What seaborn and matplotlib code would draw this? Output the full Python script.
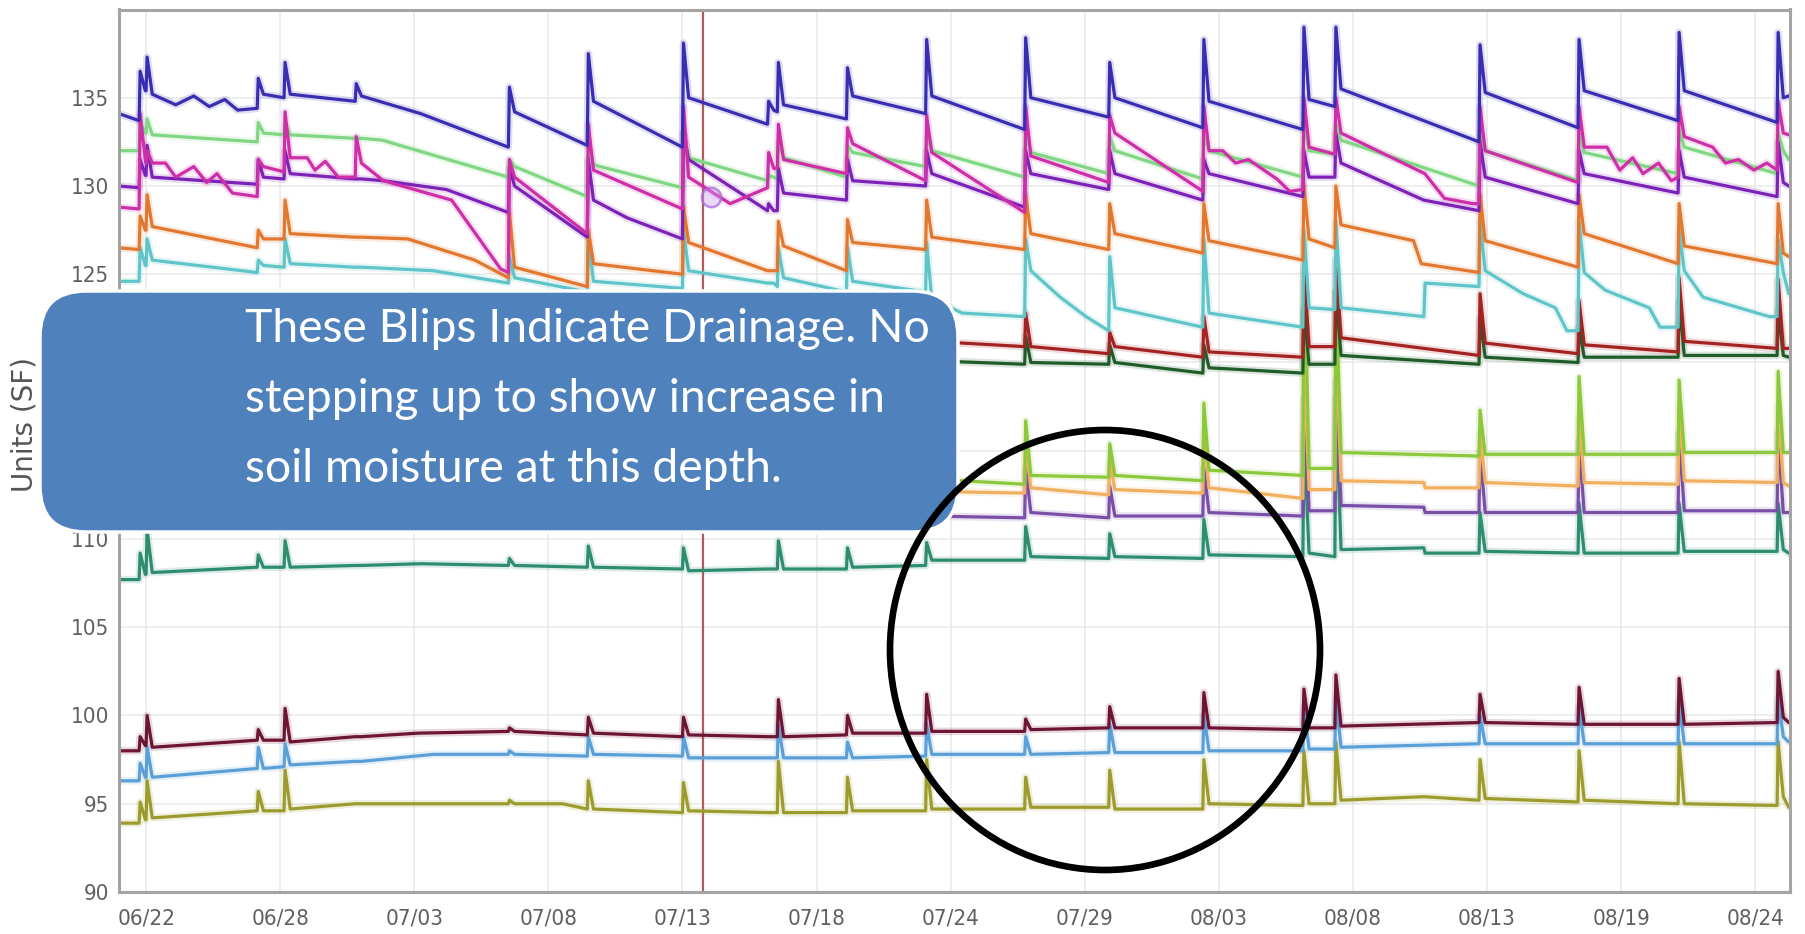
import pandas as pd
import matplotlib
matplotlib.use("Agg")
import matplotlib.pyplot as plt
import matplotlib.dates as mdates
from matplotlib import font_manager as fm
from matplotlib.patches import FancyBboxPatch, Ellipse
from matplotlib.transforms import IdentityTransform
import seaborn as sns

# ---------------------------------------------------------------- data
BASE_DATE = "2013-06-22"
# irrigation / rain events (days after BASE_DATE) read from the spikes
EVENT_DAYS = [0.62, 0.89, 5.20, 6.24, 9.00, 14.94, 18.00, 21.69, 24.99, 25.37, 28.05,
              31.12, 34.96, 38.22, 41.87, 45.75, 46.99, 52.58, 56.42, 60.30, 64.14]
START_DAY, END_DAY = -0.2, 64.55

TICK_START_DAY = 0.85
TICK_STEP_DAYS = 5.2
TICK_LABELS = ["06/22", "06/28", "07/03", "07/08", "07/13", "07/18", "07/24",
               "07/29", "08/03", "08/08", "08/13", "08/19", "08/24"]
Y_TICKS = [90, 95, 100, 105, 110, 115, 120, 125, 130, 135]
Y_LIMITS = [90, 140]
X_LIMITS = [-0.2, 64.6]
Y_LABEL = "Units (SF)"
CURSOR_DAY = 22.46
MARKER_DAY, MARKER_VALUE = 22.74, 129.4
ANNOTATION_LINES = ["These Blips Indicate Drainage. No",
                    "stepping up to show increase in",
                    "soil moisture at this depth."]

# each series: value just before each event, at its peak, shortly after
navy_pre = [133.7, 135.4, 134.4, 135.0, 134.8, 132.2, 132.3, 132.2, 133.5, 134.2, 133.8, 134.1, 133.2, 133.9, 133.3, 133.2, 134.5, 132.5, 133.3, 133.7, 133.6]
navy_peak = [136.5, 137.3, 136.1, 137.0, 135.8, 135.6, 137.5, 138.1, 134.8, 137.0, 136.7, 138.3, 138.4, 137.0, 138.3, 139.0, 139.0, 138.0, 138.3, 138.7, 138.7]
navy_post = [135.4, 135.2, 135.2, 135.2, 135.1, 134.2, 134.8, 135.0, 134.3, 134.6, 135.1, 135.1, 135.0, 135.0, 134.8, 134.9, 135.5, 135.3, 135.4, 135.4, 135.0]
navy_ends = [134.1, 135.1]
navy_extra = [(2.0, 134.6), (2.7, 135.1), (3.3, 134.5), (3.9, 134.9), (4.4, 134.3), (11.5, 134.1)]

lightgreen_pre = [132.0, 133.0, 132.5, 132.9, 132.7, 130.5, 129.4, 129.9, 130.3, 130.4, 130.5, 131.1, 130.5, 130.7, 130.4, 130.5, 131.8, 130.0, 130.3, 130.7, 130.7]
lightgreen_peak = [133.6, 133.8, 133.6, 133.5, 132.7, 131.5, 132.5, 133.0, 130.6, 132.5, 132.3, 132.8, 133.0, 132.8, 132.8, 133.5, 133.5, 132.8, 133.0, 133.2, 133.0]
lightgreen_post = [133.0, 132.9, 133.0, 132.9, 132.7, 131.1, 131.2, 131.6, 130.5, 131.6, 131.9, 132.0, 131.9, 132.0, 132.0, 132.0, 132.6, 132.0, 131.9, 132.2, 132.0]
lightgreen_ends = [132.0, 131.5]
lightgreen_extra = [(10.0, 132.6)]

magenta_pre = [128.7, 131.3, 129.4, 130.8, 130.5, 125.1, 127.3, 128.7, 129.9, 131.0, 130.7, 130.3, 128.5, 130.2, 129.7, 129.8, 131.8, 129.0, 130.2, 130.5, 130.9]
magenta_peak = [134.1, 132.0, 131.5, 134.2, 132.8, 131.5, 133.5, 134.5, 131.9, 133.5, 133.3, 134.0, 134.5, 134.0, 134.5, 135.0, 135.0, 134.5, 134.5, 134.5, 134.8]
magenta_post = [131.5, 131.3, 131.1, 131.6, 131.3, 130.5, 130.9, 130.5, 131.0, 131.5, 132.4, 131.9, 131.7, 133.0, 132.0, 132.2, 133.0, 132.0, 132.2, 132.8, 133.0]
magenta_ends = [128.8, 132.9]
magenta_extra = [(1.6, 131.3), (2.0, 130.5), (2.7, 131.1), (3.2, 130.2), (3.6, 130.7), (4.2, 129.6),
                 (7.1, 131.6), (7.4, 130.9), (7.8, 131.4), (8.3, 130.5), (10.05, 130.3), (12.7, 129.2),
                 (14.6, 125.3), (23.5, 129.0), (42.6, 132.0), (43.1, 131.3), (43.6, 131.5), (44.2, 130.9),
                 (44.7, 130.4), (45.2, 129.7), (50.44, 130.7), (51.2, 129.3), (52.3, 129.0), (57.5, 132.2),
                 (58.0, 130.9), (58.5, 131.6), (58.9, 130.7), (59.5, 131.3), (60.0, 130.3), (61.6, 132.2),
                 (62.1, 131.3), (62.6, 131.5), (63.2, 130.9), (63.7, 131.3)]

purple_pre = [129.9, 130.6, 130.1, 130.4, 130.4, 128.5, 127.1, 127.0, 128.6, 128.6, 129.2, 130.0, 128.8, 129.8, 129.2, 129.4, 130.5, 128.6, 129.0, 129.6, 129.4]
purple_peak = [131.5, 132.3, 131.5, 132.0, 130.4, 131.0, 131.5, 133.0, 129.0, 131.0, 131.5, 132.0, 132.0, 132.0, 131.5, 132.0, 133.0, 132.5, 132.0, 132.0, 132.5]
purple_post = [130.6, 130.5, 130.5, 130.7, 130.4, 130.0, 129.2, 131.5, 128.6, 129.6, 130.3, 130.7, 130.7, 130.7, 130.7, 130.5, 131.3, 130.5, 130.7, 130.5, 130.2]
purple_ends = [130.0, 130.0]
purple_extra = [(10.05, 130.3), (12.5, 129.8), (19.5, 128.2), (50.4, 129.2)]

orange_pre = [126.4, 127.5, 126.5, 127.0, 127.1, 124.8, 124.3, 125.0, 125.2, 125.2, 125.2, 126.4, 126.4, 126.4, 126.2, 125.8, 126.5, 125.1, 125.4, 125.6, 125.6]
orange_peak = [128.3, 129.5, 127.5, 129.2, 127.1, 128.5, 127.5, 128.8, 125.2, 128.0, 128.1, 129.2, 129.5, 129.0, 129.0, 130.0, 130.0, 129.5, 129.5, 129.0, 129.0]
orange_post = [127.5, 127.7, 127.0, 127.3, 127.1, 125.4, 125.6, 126.8, 125.2, 126.6, 126.8, 127.1, 127.3, 127.3, 126.9, 127.0, 127.8, 126.9, 127.3, 126.6, 126.2]
orange_ends = [126.5, 126.0]
orange_extra = [(11.0, 127.0), (13.6, 125.8), (50.0, 126.9), (50.3, 125.6)]

cyan_pre = [124.6, 125.5, 125.1, 125.4, 125.4, 124.5, 124.0, 124.2, 124.5, 124.3, 124.0, 124.0, 122.6, 121.8, 122.0, 122.0, 123.0, 124.3, 121.8, 122.0, 122.6]
cyan_peak = [126.5, 127.0, 125.8, 127.0, 125.4, 126.0, 127.0, 127.5, 124.5, 126.5, 126.5, 126.8, 127.0, 126.0, 127.0, 127.5, 128.0, 128.0, 128.0, 127.5, 127.0]
cyan_post = [125.5, 125.8, 125.5, 125.6, 125.4, 124.8, 124.6, 125.2, 124.5, 124.8, 124.6, 123.6, 125.2, 123.1, 122.8, 123.1, 123.1, 125.2, 125.1, 125.2, 125.1]
cyan_ends = [124.6, 123.9]
cyan_extra = [(12.0, 125.2), (32.5, 122.8), (36.3, 123.7), (37.3, 122.6), (50.40, 122.6), (50.45, 124.5),
              (54.25, 123.9), (55.5, 123.1), (55.95, 121.8), (57.43, 124.1), (59.14, 123.1), (59.56, 122.0),
              (61.23, 123.7), (63.8, 122.6)]

darkred_pre = [121.8, 122.2, 121.8, 122.0, 121.9, 121.6, 121.5, 121.4, 121.6, 121.5, 121.3, 121.2, 120.9, 120.5, 120.3, 120.3, 120.9, 120.4, 120.5, 120.6, 120.8]
darkred_peak = [123.0, 123.5, 122.5, 123.5, 121.9, 122.5, 123.0, 123.5, 121.6, 123.0, 122.8, 123.5, 122.8, 121.7, 122.6, 125.4, 125.8, 123.9, 123.5, 124.8, 124.7]
darkred_post = [122.2, 122.0, 122.0, 122.0, 121.9, 121.8, 121.8, 121.9, 121.6, 121.7, 121.5, 121.2, 120.9, 120.9, 120.6, 120.9, 121.4, 121.1, 121.0, 121.2, 120.8]
darkred_ends = [121.8, 120.8]

darkgreen_pre = [120.9, 121.0, 120.7, 120.8, 120.8, 120.5, 120.4, 120.3, 120.4, 120.3, 120.1, 120.0, 119.9, 119.9, 119.4, 119.4, 119.9, 119.9, 120.0, 120.3, 120.4]
darkgreen_peak = [122.0, 122.5, 121.5, 122.5, 120.8, 121.5, 122.0, 122.5, 120.4, 122.0, 121.5, 122.0, 121.5, 121.0, 121.0, 123.0, 124.0, 122.5, 122.0, 123.5, 123.0]
darkgreen_post = [121.0, 120.9, 120.9, 120.9, 120.8, 120.7, 120.7, 120.6, 120.4, 120.5, 120.3, 120.1, 120.0, 120.0, 119.7, 119.9, 120.4, 120.3, 120.3, 120.4, 120.4]
darkgreen_ends = [121.0, 120.3]

lime_pre = [112.3, 112.6, 112.5, 112.6, 112.7, 112.7, 112.8, 112.8, 113.0, 113.0, 113.1, 113.1, 113.1, 113.5, 113.3, 113.6, 114.0, 114.7, 114.8, 114.8, 114.9]
lime_peak = [113.5, 114.0, 113.5, 114.0, 112.7, 114.0, 115.0, 115.5, 113.0, 116.0, 115.5, 116.5, 116.7, 115.4, 117.7, 127.0, 124.0, 117.3, 119.2, 119.0, 119.5]
lime_post = [112.6, 112.6, 112.6, 112.7, 112.7, 112.8, 112.9, 113.0, 113.0, 113.3, 113.4, 113.4, 113.6, 113.6, 113.9, 114.0, 114.9, 114.8, 114.8, 114.9, 114.9]
lime_ends = [112.3, 114.9]

lightorange_pre = [112.0, 112.2, 112.3, 112.3, 112.4, 112.4, 112.5, 112.5, 112.6, 112.6, 112.6, 112.6, 112.6, 112.5, 112.6, 112.3, 112.8, 112.9, 113.0, 113.1, 113.2]
lightorange_peak = [113.0, 113.5, 113.0, 113.5, 112.4, 113.5, 114.0, 114.5, 112.6, 114.5, 114.0, 115.0, 115.5, 114.5, 116.0, 120.0, 121.0, 116.0, 117.0, 117.5, 117.5]
lightorange_post = [112.2, 112.3, 112.3, 112.4, 112.4, 112.5, 112.6, 112.7, 112.6, 112.7, 112.7, 112.7, 112.9, 112.8, 112.9, 112.8, 113.3, 113.2, 113.2, 113.3, 113.2]
lightorange_ends = [112.0, 113.0]
lightorange_extra = [(50.40, 113.2), (50.45, 112.9)]

violet_pre = [110.8, 111.0, 111.0, 111.0, 111.1, 111.1, 111.1, 111.1, 111.2, 111.2, 111.2, 111.2, 111.2, 111.2, 111.3, 111.3, 111.6, 111.5, 111.5, 111.5, 111.6]
violet_peak = [111.8, 112.2, 111.8, 112.0, 111.1, 112.0, 112.5, 113.0, 111.2, 113.0, 112.5, 113.5, 114.0, 113.0, 114.0, 118.0, 119.0, 115.0, 115.5, 116.0, 116.0]
violet_post = [111.0, 111.0, 111.0, 111.1, 111.1, 111.1, 111.2, 111.2, 111.2, 111.3, 111.3, 111.3, 111.5, 111.3, 111.5, 111.6, 111.9, 111.5, 111.5, 111.6, 111.5]
violet_ends = [110.8, 111.5]
violet_extra = [(50.40, 111.8), (50.45, 111.5)]

teal_pre = [107.7, 108.0, 108.4, 108.4, 108.5, 108.5, 108.4, 108.3, 108.3, 108.3, 108.3, 108.5, 108.8, 108.9, 108.9, 109.0, 109.0, 109.2, 109.2, 109.2, 109.3]
teal_peak = [109.2, 110.5, 109.1, 109.9, 108.5, 108.9, 109.6, 109.5, 108.3, 109.9, 109.5, 109.8, 110.7, 110.3, 111.1, 116.0, 118.0, 111.5, 112.0, 112.0, 112.0]
teal_post = [108.0, 108.1, 108.4, 108.4, 108.5, 108.5, 108.4, 108.2, 108.3, 108.3, 108.4, 108.8, 109.0, 109.0, 109.1, 109.2, 109.4, 109.3, 109.2, 109.3, 109.4]
teal_ends = [107.7, 109.2]
teal_extra = [(11.5, 108.6), (50.40, 109.5), (50.45, 109.2)]

maroon_pre = [98.0, 98.3, 98.6, 98.6, 98.8, 99.1, 98.9, 98.8, 98.8, 98.8, 98.9, 99.0, 99.1, 99.3, 99.3, 99.2, 99.3, 99.6, 99.5, 99.5, 99.6]
maroon_peak = [98.8, 100.0, 99.2, 100.4, 98.8, 99.3, 99.9, 99.9, 98.8, 100.9, 100.0, 101.2, 99.8, 100.5, 101.3, 101.5, 102.3, 101.2, 101.6, 102.1, 102.5]
maroon_post = [98.3, 98.2, 98.6, 98.5, 98.8, 99.1, 99.0, 98.9, 98.8, 98.8, 99.0, 99.1, 99.2, 99.3, 99.3, 99.3, 99.4, 99.6, 99.5, 99.5, 99.9]
maroon_ends = [98.0, 99.6]
maroon_extra = [(11.4, 99.0)]

skyblue_pre = [96.3, 96.5, 97.0, 97.1, 97.4, 97.8, 97.7, 97.7, 97.6, 97.6, 97.6, 97.7, 97.8, 97.9, 97.9, 98.0, 98.1, 98.4, 98.4, 98.4, 98.4]
skyblue_peak = [97.3, 98.2, 98.2, 98.4, 97.4, 98.0, 98.8, 98.8, 97.6, 99.5, 98.5, 99.5, 98.8, 99.5, 100.0, 100.5, 101.0, 100.0, 100.5, 100.8, 101.0]
skyblue_post = [96.5, 96.5, 97.0, 97.2, 97.4, 97.8, 97.8, 97.6, 97.6, 97.6, 97.6, 97.8, 97.8, 97.9, 98.0, 98.1, 98.2, 98.4, 98.4, 98.4, 98.8]
skyblue_ends = [96.3, 98.5]
skyblue_extra = [(12.0, 97.8)]

olive_pre = [93.9, 94.1, 94.6, 94.6, 95.0, 95.0, 94.7, 94.5, 94.5, 94.5, 94.5, 94.6, 94.7, 94.8, 94.7, 94.9, 95.0, 95.2, 95.1, 95.0, 94.9]
olive_peak = [95.1, 96.3, 95.7, 96.9, 95.0, 95.2, 96.3, 96.2, 94.5, 97.4, 96.5, 97.5, 96.5, 96.9, 97.5, 98.0, 98.5, 97.5, 98.0, 98.5, 98.5]
olive_post = [94.1, 94.2, 94.6, 94.7, 95.0, 95.0, 94.7, 94.6, 94.5, 94.5, 94.6, 94.7, 94.8, 94.7, 95.0, 95.0, 95.2, 95.3, 95.2, 95.0, 95.4]
olive_ends = [93.9, 94.8]
olive_extra = [(11.0, 95.0), (17.0, 95.0), (50.4, 95.4)]

# drawing order (first = bottom) with colours
SERIES = [
    ("olive", "#9c9c2e", olive_ends, olive_pre, olive_peak, olive_post, olive_extra),
    ("skyblue", "#5b9fd8", skyblue_ends, skyblue_pre, skyblue_peak, skyblue_post, skyblue_extra),
    ("maroon", "#6d1535", maroon_ends, maroon_pre, maroon_peak, maroon_post, maroon_extra),
    ("teal", "#2e8c70", teal_ends, teal_pre, teal_peak, teal_post, teal_extra),
    ("violet", "#7a4fa8", violet_ends, violet_pre, violet_peak, violet_post, violet_extra),
    ("lightorange", "#f0b060", lightorange_ends, lightorange_pre, lightorange_peak, lightorange_post, lightorange_extra),
    ("lime", "#8cc83c", lime_ends, lime_pre, lime_peak, lime_post, []),
    ("darkgreen", "#1f5c2a", darkgreen_ends, darkgreen_pre, darkgreen_peak, darkgreen_post, []),
    ("darkred", "#a32222", darkred_ends, darkred_pre, darkred_peak, darkred_post, []),
    ("cyan", "#5fc5c8", cyan_ends, cyan_pre, cyan_peak, cyan_post, cyan_extra),
    ("orange", "#e2772f", orange_ends, orange_pre, orange_peak, orange_post, orange_extra),
    ("lightgreen", "#80d682", lightgreen_ends, lightgreen_pre, lightgreen_peak, lightgreen_post, lightgreen_extra),
    ("purple", "#7c22b6", purple_ends, purple_pre, purple_peak, purple_post, purple_extra),
    ("magenta", "#cc2fa8", magenta_ends, magenta_pre, magenta_peak, magenta_post, magenta_extra),
    ("navy", "#3a2db2", navy_ends, navy_pre, navy_peak, navy_post, navy_extra),
]

# ---------------------------------------------------------------- table
base = pd.Timestamp(BASE_DATE)


def to_time(day):
    return base + pd.to_timedelta(day, unit="D")


rows = []
for name, color, ends, pre, peak, post, extra in SERIES:
    pts = [(START_DAY, ends[0])]
    for d, a, b, c in zip(EVENT_DAYS, pre, peak, post):
        pts += [(d - 0.04, a), (d, b), (d + 0.2, c)]
    pts += list(extra)
    pts.append((END_DAY, ends[1]))
    for d, v in pts:
        rows.append({"time": to_time(d), "value": v, "series": name})
df = pd.DataFrame(rows)
order = [s[0] for s in SERIES]
palette = {s[0]: s[1] for s in SERIES}


# ---------------------------------------------------------------- fonts
def narrow_font():
    cands = [("Liberation Sans Narrow", "normal"), ("DejaVu Sans", "condensed"),
             ("Noto Sans", "condensed"), ("Open Sans", "condensed")]
    for fam, stretch in cands:
        try:
            path = fm.findfont(fm.FontProperties(family=fam, stretch=stretch), fallback_to_default=False)
        except Exception:
            continue
        low = path.lower()
        if "narrow" in low or "condensed" in low:
            return fm.FontProperties(fname=path)
    return None


def have_font(name):
    try:
        fm.findfont(fm.FontProperties(family=name), fallback_to_default=False)
        return True
    except Exception:
        return False


sns.set_style("white")
NARROW = narrow_font()
TICK_SIZE = 16 if NARROW is not None else 14
NOTE_FONT = "Lato" if have_font("Lato") else "DejaVu Sans"
plt.rcParams["font.family"] = ["DejaVu Sans"]

# ---------------------------------------------------------------- figure
W, H = 1805, 934
fig = plt.figure(figsize=(W / 100, H / 100), dpi=100)
fig.patch.set_facecolor("white")
ax = fig.add_axes([119 / W, 42 / H, 1671 / W, 882.5 / H])
ax.set_facecolor("white")

# soft halo, then the lines themselves
sns.lineplot(data=df, x="time", y="value", hue="series", hue_order=order, palette=palette,
             estimator=None, sort=True, legend=False, linewidth=5.5, alpha=0.16, ax=ax)
sns.lineplot(data=df, x="time", y="value", hue="series", hue_order=order, palette=palette,
             estimator=None, sort=True, legend=False, linewidth=2.3, ax=ax)

ax.set_xlim(mdates.date2num(to_time(X_LIMITS[0])), mdates.date2num(to_time(X_LIMITS[1])))
ax.set_ylim(*Y_LIMITS)
tick_pos = [mdates.date2num(to_time(TICK_START_DAY + k * TICK_STEP_DAYS)) for k in range(len(TICK_LABELS))]
ax.set_xticks(tick_pos)
ax.set_xticklabels(TICK_LABELS)
ax.set_yticks(Y_TICKS)
ax.set_yticklabels([str(v) for v in Y_TICKS])
ax.set_xlabel("")
ax.set_ylabel("")
ax.tick_params(axis="both", length=0, labelsize=TICK_SIZE, labelcolor="#5f5f5f")
ax.tick_params(axis="y", pad=7)
ax.tick_params(axis="x", pad=12)
if NARROW is not None:
    for lab in ax.get_xticklabels() + ax.get_yticklabels():
        lab.set_fontproperties(NARROW)
        lab.set_fontsize(TICK_SIZE)
ax.grid(True, color="#e9e9e9", linewidth=1.1)
ax.set_axisbelow(True)
for side, sp in ax.spines.items():
    sp.set_visible(True)
    sp.set_color("#a4a4a4")
    sp.set_linewidth(2.2)

# cursor line and highlighted point
ax.axvline(mdates.date2num(to_time(CURSOR_DAY)), color="#b35b5b", linewidth=1.6, zorder=1.5)
ax.plot([mdates.date2num(to_time(MARKER_DAY))], [MARKER_VALUE], marker="o", markersize=14,
        markerfacecolor=(0.80, 0.62, 0.95, 0.40), markeredgecolor=(0.66, 0.42, 0.86, 0.75),
        markeredgewidth=1.8, linestyle="none", zorder=4)

fig.text(24 / W, 1 - 425 / H, Y_LABEL, rotation=90, ha="center", va="center",
         fontsize=20, color="#555555", family=["DejaVu Sans"])

# ---------------------------------------------------------------- callout box
box = FancyBboxPatch((40, H - 532), 918, 241, boxstyle="round,pad=0,rounding_size=46",
                     transform=IdentityTransform(), facecolor="#4f81bd", edgecolor="white",
                     linewidth=2.5, zorder=6)
fig.add_artist(box)

baselines = [342, 412, 482]
first = fig.text(245 / W, 1 - baselines[0] / H, ANNOTATION_LINES[0], fontsize=30,
                 family=[NOTE_FONT, "DejaVu Sans"], color="white", ha="left", va="baseline", zorder=7)
fig.canvas.draw()
width_px = first.get_window_extent().width
note_size = 30 * 684 / width_px
first.set_fontsize(note_size)
for line, yb in zip(ANNOTATION_LINES[1:], baselines[1:]):
    fig.text(245 / W, 1 - yb / H, line, fontsize=note_size, family=[NOTE_FONT, "DejaVu Sans"],
             color="white", ha="left", va="baseline", zorder=7)

ring = Ellipse((1105, H - 650), 430, 440, transform=IdentityTransform(), fill=False,
               edgecolor="black", linewidth=4.8, zorder=8)
fig.add_artist(ring)

fig.savefig("out.png", dpi=100, facecolor="white")
